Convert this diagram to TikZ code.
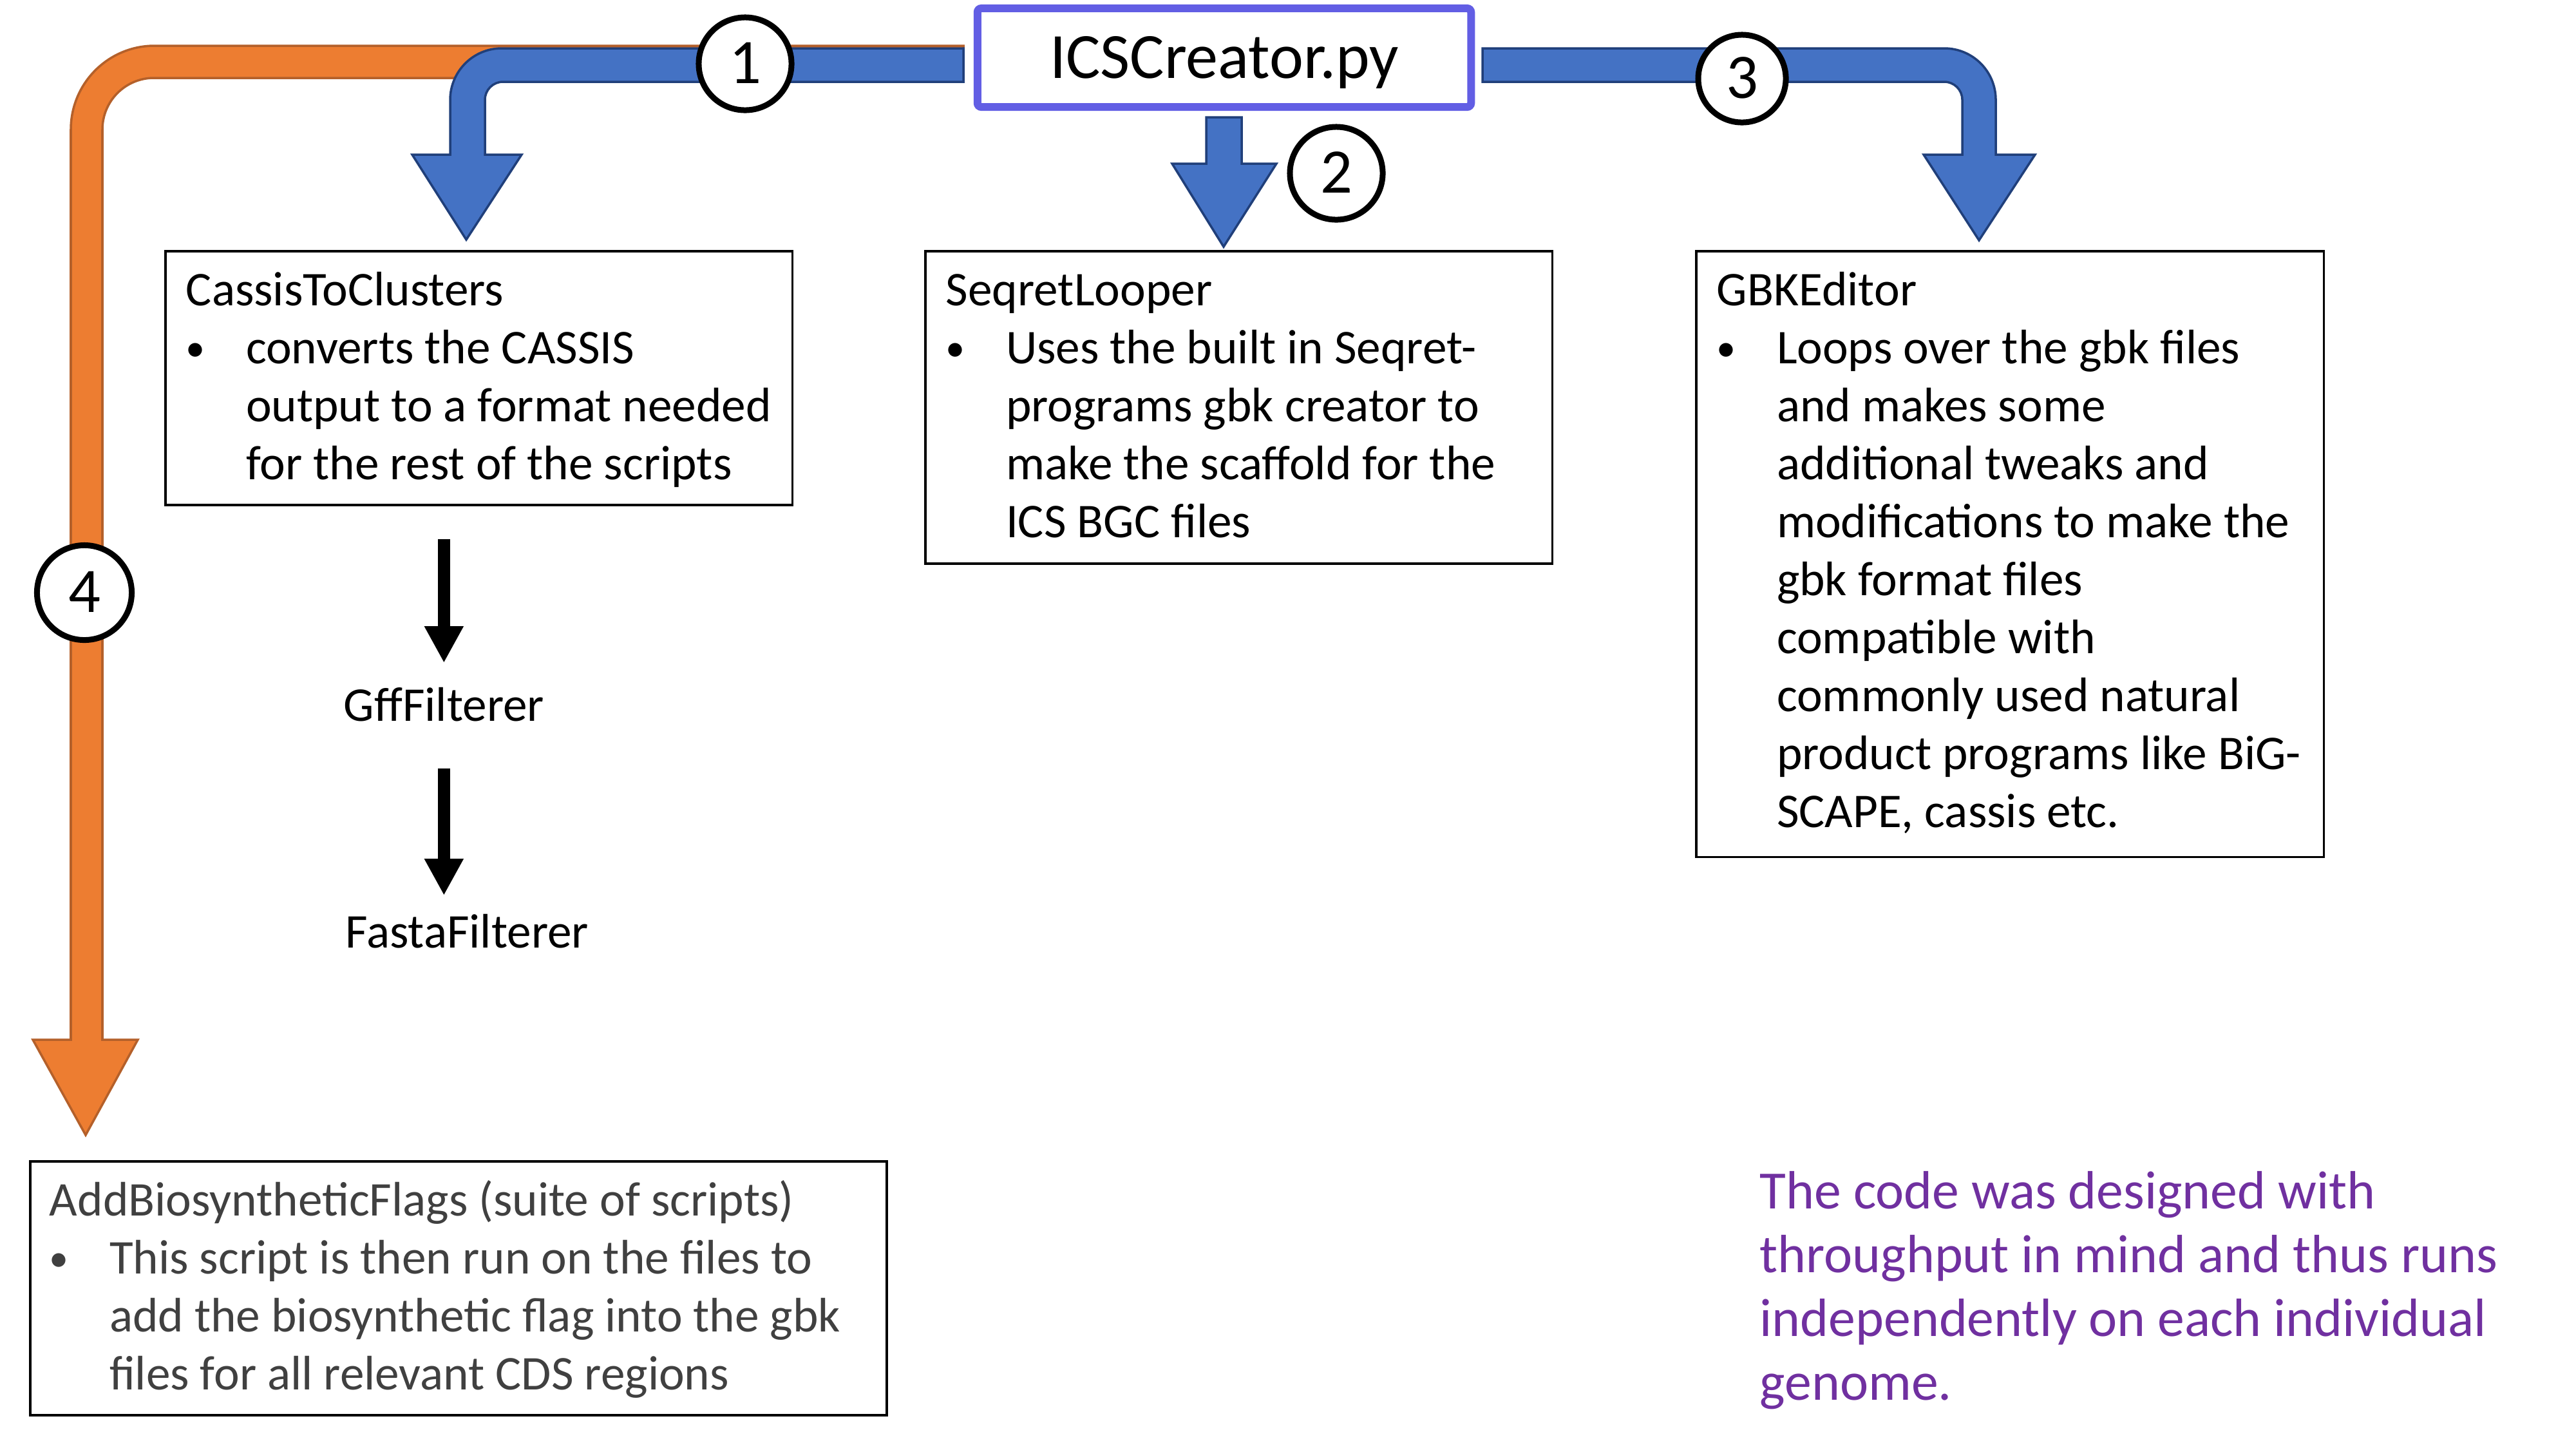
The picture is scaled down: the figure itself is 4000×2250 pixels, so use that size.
\documentclass[tikz,border=0pt]{standalone}
\usepackage{fontspec}
\setmainfont{Carlito}
\usetikzlibrary{arrows.meta}

\definecolor{flowblue}{HTML}{4472C4}
\definecolor{flowblueline}{HTML}{203F7A}
\definecolor{floworange}{HTML}{ED7D31}
\definecolor{floworangeline}{HTML}{B4602A}
\definecolor{icsviolet}{RGB}{98,94,228}
\definecolor{notepurple}{HTML}{7030A0}
\definecolor{bodygray}{HTML}{404040}

\newcommand{\cardtext}[4]{\parbox[c][#2][t]{#1}{\raggedright\leftskip=#3\rule{0pt}{0.84cm}#4}}
\newcommand{\bul}{\makebox[0.93cm][l]{\raisebox{0.04cm}{\scalebox{0.8}{\textbullet}}}}
\newcommand{\bulskip}{\hspace*{0.93cm}}

\tikzset{
    card/.style={draw, line width=1.1pt, inner sep=0pt, anchor=north west,
        font=\fontsize{21.4pt}{0.9cm}\selectfont},
    icsbox/.style={draw=icsviolet, line width=0.12cm, rounded corners=0.06cm,
        minimum width=7.66cm, minimum height=1.53cm, inner sep=0pt,
        text height=0.64cm, text depth=0pt, font=\fontsize{28.5pt}{30pt}\selectfont},
    num/.style={circle, draw, line width=0.09cm, fill=white, inner sep=0pt,
        minimum size=1.44cm, text height=0.61cm, text depth=0pt,
        font=\fontsize{28pt}{28pt}\selectfont},
    step name/.style={inner sep=0pt, anchor=base west, font=\fontsize{21.4pt}{24pt}\selectfont},
    bluearrow/.style={fill=flowblue, draw=flowblueline, line width=1pt, line join=miter},
    orangearrow/.style={fill=floworange, draw=floworangeline, line width=1pt, line join=miter},
    flow/.style={line width=0.19cm, -{Triangle[length=0.57cm, width=0.57cm]}}
}

\begin{document}
\begin{tikzpicture}[x=0.01cm, y=-0.01cm]
    \useasboundingbox (0,0) rectangle (4000,2250);

    \node[icsbox] (ics) at (1901,89.5) {ICSCreator.py};

    \node[card] (cassis) at (255,388) {\cardtext{9.73cm}{3.94cm}{0.32cm}{CassisToClusters\\
        \bul converts the CASSIS\\
        \bulskip output to a format needed\\
        \bulskip for the rest of the scripts}};
    \node[card] (seqret) at (1435,388) {\cardtext{9.73cm}{4.85cm}{0.32cm}{SeqretLooper\\
        \bul Uses the built in Seqret-\\
        \bulskip programs gbk creator to\\
        \bulskip make the scaffold for the\\
        \bulskip ICS BGC files}};
    \node[card] (gbk) at (2632,388) {\cardtext{9.74cm}{9.40cm}{0.32cm}{GBKEditor\\
        \bul Loops over the gbk files\\
        \bulskip and makes some\\
        \bulskip additional tweaks and\\
        \bulskip modifications to make the\\
        \bulskip gbk format files\\
        \bulskip compatible with\\
        \bulskip commonly used natural\\
        \bulskip product programs like BiG-\\
        \bulskip SCAPE, cassis etc.}};
    \node[card, text=bodygray] (addbio) at (45,1801) {\cardtext{13.29cm}{3.94cm}{0.30cm}{AddBiosyntheticFlags (suite of scripts)\\
        \bul This script is then run on the files to\\
        \bulskip add the biosynthetic flag into the gbk\\
        \bulskip files for all relevant CDS regions}};

    \node[step name] (gff) at (533,1119) {GffFilterer};
    \node[step name] (fasta) at (536,1471) {FastaFilterer};

    \draw[flow] ([yshift=-0.51cm]cassis.south -| gff.north) -- ([yshift=0.37cm]gff.north);
    \draw[flow] ([yshift=-0.74cm]gff.base) -- ([yshift=0.28cm]fasta.north -| gff.north);

    \node[anchor=base west, inner sep=0pt, text=notepurple,
        font=\fontsize{23.8pt}{0.99cm}\selectfont] (note) at (2732,1876)
        {\parbox[t]{12cm}{\raggedright The code was designed with\\
        throughput in mind and thus runs\\
        independently on each individual\\
        genome.}};

    \draw[orangearrow] (1496,71) -- (240,71) .. controls (168.2,71) and (110,129.2) .. (110,201)
        -- (110,1614) -- (51,1614) -- (133,1762) -- (214,1614) -- (159,1614) -- (159,201)
        .. controls (159,156.8) and (194.8,121) .. (239,121) -- (1496,121) -- cycle;
    \draw[bluearrow] (1496,75) -- (779,75) .. controls (734.8,75) and (699,110.8) .. (699,155)
        -- (699,240) -- (640,240) -- (724,372) -- (810,240) -- (753,240) -- (753,155)
        .. controls (753,139.5) and (765.5,127) .. (781,127) -- (1496,127) -- cycle;
    \draw[bluearrow] (1873,182) -- (1928,182) -- (1928,254) -- (1982,254) -- (1900,383)
        -- (1820,254) -- (1873,254) -- cycle;
    \draw[bluearrow] (2302,75) -- (3019,75) .. controls (3063.2,75) and (3099,110.8) .. (3099,155)
        -- (3099,240) -- (3160,240) -- (3073,373) -- (2987,240) -- (3047,240) -- (3047,155)
        .. controls (3047,139.5) and (3034.5,127) .. (3019,127) -- (2302,127) -- cycle;

    \node[num] (n1) at (1157,99) {1};
    \node[num] (n2) at (2075,269) {2};
    \node[num, minimum size=1.36cm] (n3) at (2705,122) {3};
    \node[num, minimum size=1.47cm] (n4) at (131,920) {4};
\end{tikzpicture}
\end{document}
